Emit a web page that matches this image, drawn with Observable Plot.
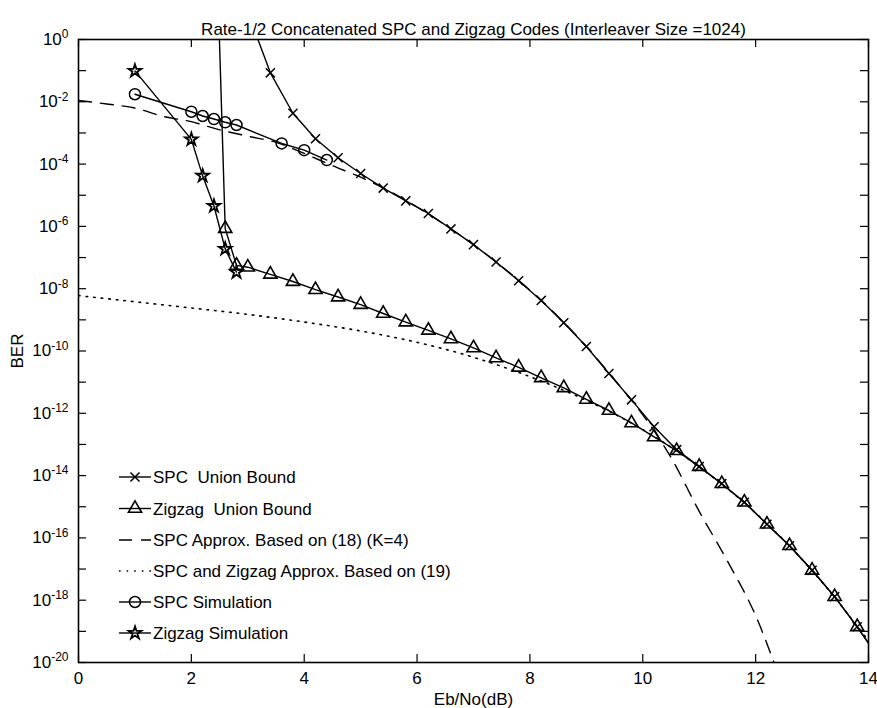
<!DOCTYPE html>
<html><head><meta charset="utf-8">
<script src="https://cdn.jsdelivr.net/npm/d3@7"></script>
<script src="https://cdn.jsdelivr.net/npm/@observablehq/plot@0.6"></script>
<style>
body{margin:0;background:#fff;}
#wrap{position:relative;width:877px;height:708px;font-family:"Liberation Sans",Arial,Helvetica,sans-serif;}
#wrap svg.overlay{position:absolute;left:0;top:0;pointer-events:none;}
</style></head><body><div id="wrap"></div>
<script>
const title = "Rate-1/2 Concatenated SPC and Zigzag Codes (Interleaver Size =1024)";
const xLabel = "Eb/No(dB)";
const yLabel = "BER";
const xTicks = [0, 2, 4, 6, 8, 10, 12, 14];
const yDecadeExps = [0,-1,-2,-3,-4,-5,-6,-7,-8,-9,-10,-11,-12,-13,-14,-15,-16,-17,-18,-19,-20];
const yLabelExps = [0,-2,-4,-6,-8,-10,-12,-14,-16,-18,-20];

// SPC Union Bound (x markers)
const spcBoundEbNo = [3.0,3.4,3.8,4.2,4.6,5.0,5.4,5.8,6.2,6.6,7.0,7.4,7.8,8.2,8.6,9.0,9.4,9.8,10.2,10.6,11.0,11.4,11.8,12.2,12.6,13.0,13.4,13.8,14.2];
const spcBoundBER = [7.5,8.5e-2,4.3e-3,6.5e-4,1.6e-4,5.0e-5,1.7e-5,6.6e-6,2.6e-6,8.3e-7,2.6e-7,7.2e-8,1.8e-8,4.2e-9,8.1e-10,1.4e-10,1.9e-11,2.7e-12,3.7e-13,6.8e-14,1.95e-14,5.5e-15,1.4e-15,2.75e-16,5.6e-17,9.1e-18,1.3e-18,1.4e-19,1.25e-20];

// Zigzag Union Bound (triangles)
const zzBoundEbNo = [2.2,2.6,2.8,3.0,3.4,3.8,4.2,4.6,5.0,5.4,5.8,6.2,6.6,7.0,7.4,7.8,8.2,8.6,9.0,9.4,9.8,10.2,10.6,11.0,11.4,11.8,12.2,12.6,13.0,13.4,13.8,14.2];
const zzBoundBER = [4e17,8.5e-7,5.6e-8,4.9e-8,2.9e-8,1.7e-8,9.3e-9,5.4e-9,3.1e-9,1.6e-9,8.5e-10,4.6e-10,2.45e-10,1.26e-10,6.0e-11,3.0e-11,1.38e-11,6.6e-12,2.8e-12,1.23e-12,4.9e-13,1.74e-13,6.3e-14,1.95e-14,5.5e-15,1.4e-15,2.75e-16,5.6e-17,9.1e-18,1.3e-18,1.4e-19,1.25e-20];

// SPC Approx. Based on (18) (K=4) (dashed)
const spcApproxEbNo = [0,0.5,1.0,1.5,2.0,2.5,3.0,3.5,4.0,4.5,5.0,5.5,6.0,6.5,7.0,7.5,8.0,8.5,9.0,9.5,10.0,10.5,11.0,11.5,12.0,12.5];
const spcApproxBER = [1.1e-2,8.5e-3,6.3e-3,3.4e-3,2.3e-3,1.26e-3,7.9e-4,5.0e-4,2.2e-4,8.9e-5,3.8e-5,1.4e-5,4.2e-6,1.1e-6,2.6e-7,5.2e-8,8.9e-9,1.26e-9,1.4e-10,1.2e-11,8.9e-13,3.8e-14,7.1e-16,1.8e-17,3.2e-19,1.26e-21];

// SPC and Zigzag Approx. Based on (19) (dotted)
const bothApproxEbNo = [0,1,2,3,4,5,6,7,8,9,10,11,12,13,14];
const bothApproxBER = [6.0e-9,3.8e-9,2.4e-9,1.5e-9,8.5e-10,4.4e-10,1.9e-10,6.3e-11,1.5e-11,2.6e-12,3.0e-13,1.9e-14,6.3e-16,8.9e-18,5.0e-20];

// SPC Simulation (circles)
const spcSimEbNo = [1.0,2.0,2.2,2.4,2.6,2.8,3.6,4.0,4.4];
const spcSimBER = [1.75e-2,4.8e-3,3.5e-3,2.8e-3,2.2e-3,1.8e-3,4.6e-4,2.8e-4,1.35e-4];

// Zigzag Simulation (stars)
const zzSimEbNo = [1.0,2.0,2.2,2.4,2.6,2.8];
const zzSimBER = [9.8e-2,6.2e-4,4.2e-5,4.5e-6,1.9e-7,3.4e-8];

const legendLabels = ["SPC  Union Bound","Zigzag  Union Bound","SPC Approx. Based on (18) (K=4)","SPC and Zigzag Approx. Based on (19)","SPC Simulation","Zigzag Simulation"];

const W = 877, H = 708, mL = 78, mR = 9, mT = 39, mB = 46;
const plotW = W - mL - mR, plotH = H - mT - mB;
const FONT = "Liberation Sans, Arial, Helvetica, sans-serif";

const zip = (xs, ys) => xs.map((x, i) => ({x, y: ys[i]}));
const spcBound = zip(spcBoundEbNo, spcBoundBER);
const zzBound = zip(zzBoundEbNo, zzBoundBER);
const spcApprox = zip(spcApproxEbNo, spcApproxBER);
const bothApprox = zip(bothApproxEbNo, bothApproxBER);
const spcSim = zip(spcSimEbNo, spcSimBER);
const zzSim = zip(zzSimEbNo, zzSimBER);

const decades = yDecadeExps.map(e => Math.pow(10, e));
const labelDecades = yLabelExps.map(e => Math.pow(10, e));

const LW = 1.4;
const sym = {
  spcBound: {symbol: "times", r: 4.2, sw: 1.5},
  zzBound: {symbol: "triangle", r: 4.9, sw: 1.6},
  spcSim: {symbol: "circle", r: 5.5, sw: 1.5},
  zzSim: {symbol: "star", r: 4.0, sw: 1.8}
};

const lineOpts = {x: "x", y: "y", stroke: "black", strokeWidth: LW, clip: true};
const dotOpts = (s) => ({x: "x", y: "y", symbol: s.symbol, r: s.r, fill: "none", stroke: "black", strokeWidth: s.sw, clip: true});

const chart = Plot.plot({
  width: W, height: H,
  marginLeft: mL, marginRight: mR, marginTop: mT, marginBottom: mB,
  style: {fontFamily: FONT, fontSize: "17px", background: "white", color: "black", overflow: "visible"},
  x: {domain: [0, 14]},
  y: {type: "log", domain: [1e-20, 1]},
  marks: [
    Plot.line(bothApprox, {...lineOpts, curve: "monotone-x", strokeDasharray: "1.6,6", strokeWidth: 1.6}),
    Plot.line(spcApprox, {...lineOpts, curve: "monotone-x", strokeDasharray: "13,9"}),
    Plot.line(spcBound, lineOpts),
    Plot.line(zzBound, lineOpts),
    Plot.line(spcSim, lineOpts),
    Plot.line(zzSim, lineOpts),
    Plot.dot(spcBound, dotOpts(sym.spcBound)),
    Plot.dot(zzBound, dotOpts(sym.zzBound)),
    Plot.dot(spcSim, dotOpts(sym.spcSim)),
    Plot.dot(zzSim, dotOpts(sym.zzSim)),
    // inward ticks
    Plot.tickY(decades, {y: d => d, stroke: "black", strokeWidth: 1.2, insetRight: plotW - 8}),
    Plot.tickY(decades, {y: d => d, stroke: "black", strokeWidth: 1.2, insetLeft: plotW - 8}),
    Plot.tickX(xTicks, {x: d => d, stroke: "black", strokeWidth: 1.2, insetTop: plotH - 8}),
    Plot.tickX(xTicks, {x: d => d, stroke: "black", strokeWidth: 1.2, insetBottom: plotH - 8}),
    Plot.frame({stroke: "black", strokeWidth: 1.6}),
    Plot.axisX({ticks: xTicks, tickSize: 0, tickPadding: 9, fontSize: 17, label: xLabel, labelAnchor: "center", labelArrow: false, labelOffset: 42}),
    Plot.axisY({ticks: labelDecades, tickSize: 0, tickPadding: 10, fontSize: 17,
      tickFormat: d => "10|" + Math.round(Math.log10(d)),
      label: yLabel, labelAnchor: "center", labelArrow: false, labelOffset: 68}),
    Plot.text([title], {frameAnchor: "top", dy: -17, fontSize: 17})
  ]
});

document.getElementById("wrap").appendChild(chart);

// superscript exponents on y tick labels
chart.querySelectorAll('g[aria-label="y-axis tick label"] text').forEach(t => {
  const s = t.textContent;
  if (!s.includes("|")) return;
  const [base, exp] = s.split("|");
  t.textContent = "";
  const ns = "http://www.w3.org/2000/svg";
  const b = document.createElementNS(ns, "tspan"); b.textContent = base;
  const e = document.createElementNS(ns, "tspan"); e.textContent = exp;
  e.setAttribute("dy", "-0.55em"); e.setAttribute("font-size", "12px");
  t.appendChild(b); t.appendChild(e);
});

// legend overlay (inside axes, lower left)
const ov = d3.select("#wrap").append("svg").attr("class", "overlay")
  .attr("width", W).attr("height", H)
  .style("font-family", FONT).style("font-size", "17px");
const rowsY = [477, 508.5, 540, 571, 602, 633];
const entries = [
  {label: legendLabels[0], s: sym.spcBound},
  {label: legendLabels[1], s: sym.zzBound},
  {label: legendLabels[2], dash: "13,9"},
  {label: legendLabels[3], dash: "1.6,6", sw: 1.6},
  {label: legendLabels[4], s: sym.spcSim},
  {label: legendLabels[5], s: sym.zzSim}
];
const symMap = {times: d3.symbolTimes, triangle: d3.symbolTriangle, circle: d3.symbolCircle, star: d3.symbolStar};
entries.forEach((en, i) => {
  const g = ov.append("g").attr("transform", `translate(0,${rowsY[i]})`);
  g.append("line").attr("x1", 119).attr("x2", 151).attr("y1", 0).attr("y2", 0)
    .attr("stroke", "black").attr("stroke-width", en.sw || LW)
    .attr("stroke-dasharray", en.dash || null);
  if (en.s) {
    g.append("path").attr("transform", "translate(135,0)")
      .attr("d", d3.symbol(symMap[en.s.symbol], Math.PI * en.s.r * en.s.r)())
      .attr("fill", "none").attr("stroke", "black").attr("stroke-width", en.s.sw);
  }
  g.append("text").attr("x", 153).attr("y", 0).attr("dy", "0.36em")
    .attr("fill", "black").style("white-space", "pre").attr("xml:space", "preserve").text(en.label);
});
</script></body></html>
